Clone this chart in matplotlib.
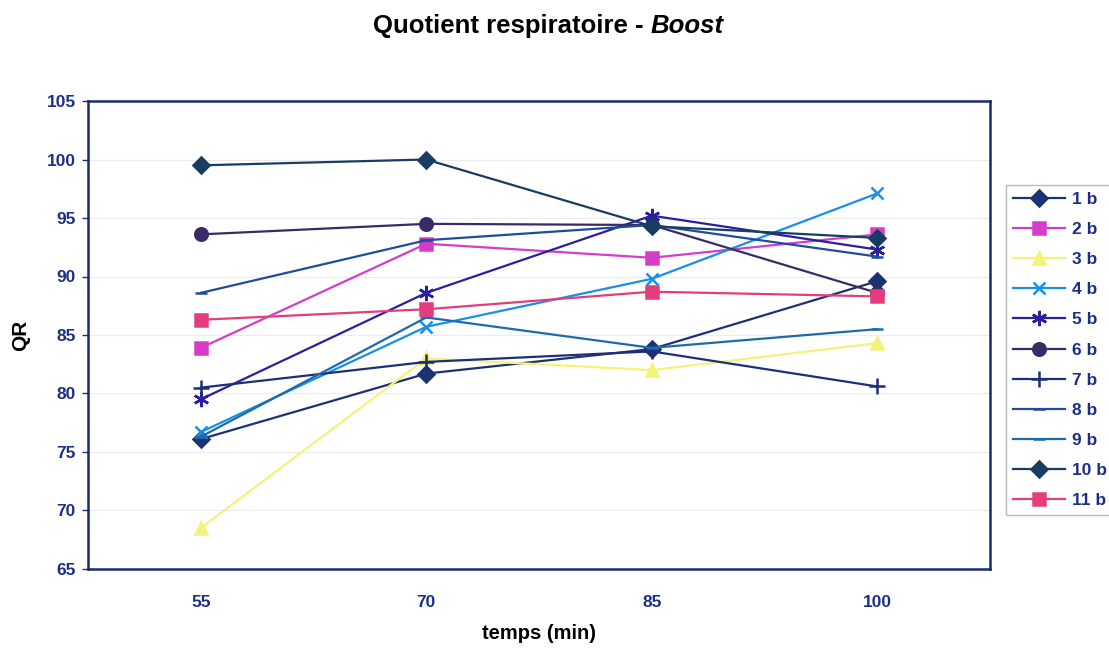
import matplotlib.pyplot as plt
from matplotlib.ticker import MultipleLocator

plt.rcParams['font.family'] = ['Liberation Sans', 'DejaVu Sans']

# temps (min) et quotient respiratoire par sujet
temps = ['55', '70', '85', '100']
qr_1b = [76.1, 81.7, 83.8, 89.6]
qr_2b = [83.9, 92.8, 91.6, 93.6]
qr_3b = [68.5, 83.0, 82.0, 84.3]
qr_4b = [76.7, 85.7, 89.8, 97.1]
qr_5b = [79.5, 88.6, 95.2, 92.3]
qr_6b = [93.6, 94.5, 94.4, 88.6]
qr_7b = [80.5, 82.7, 83.6, 80.6]
qr_8b = [88.6, 93.1, 94.4, 91.7]
qr_9b = [76.3, 86.5, 83.9, 85.5]
qr_10b = [99.5, 100.0, 94.3, 93.3]
qr_11b = [86.3, 87.2, 88.7, 88.3]

series = [
    ('1 b', qr_1b, '#1c3373', 'D', 8),
    ('2 b', qr_2b, '#d63cc8', 's', 8),
    ('3 b', qr_3b, '#f4f27a', '^', 8),
    ('4 b', qr_4b, '#1a8fe8', 'x', 9),
    ('5 b', qr_5b, '#2a1fa0', (6, 2, 0), 11),
    ('6 b', qr_6b, '#3a2a66', 'o', 9),
    ('7 b', qr_7b, '#1c2f7a', '+', 12),
    ('8 b', qr_8b, '#1f4d9c', '_', 8),
    ('9 b', qr_9b, '#1e6aad', '_', 8),
    ('10 b', qr_10b, '#173d62', 'D', 8),
    ('11 b', qr_11b, '#e53c80', 's', 8),
]

bleu = '#1c2f86'

fig = plt.figure(figsize=(11.09, 6.48), dpi=100)
ax = fig.add_axes([88 / 1109, 1 - 569 / 648, 902 / 1109, 468 / 648])

for nom, vals, couleur, marq, taille in series:
    ax.plot(temps, vals, color=couleur, lw=1.6, marker=marq, markersize=taille,
            markerfacecolor=couleur, markeredgecolor=couleur, markeredgewidth=1.8,
            label=nom)

ax.set_xlim(-0.5, 3.5)
ax.set_ylim(65, 105)
ax.yaxis.set_major_locator(MultipleLocator(5))
ax.grid(axis='y', color='#ececec', lw=0.8)
ax.set_axisbelow(True)

for s in ax.spines.values():
    s.set_color('#1a2a70')
    s.set_linewidth(1.8)

ax.tick_params(axis='both', colors=bleu, labelsize=12.5, length=4, width=1)
ax.tick_params(axis='y', pad=5)
ax.tick_params(axis='x', length=0, pad=19)
for lab in ax.get_xticklabels() + ax.get_yticklabels():
    lab.set_fontweight('bold')
    lab.set_color(bleu)

ax.set_xlabel('temps (min)', fontsize=14.5, fontweight='bold', labelpad=10)
ax.set_ylabel('QR', fontsize=15, fontweight='bold', labelpad=12)

# titre : "Boost" en italique
fig.text(651 / 1109, 1 - 26 / 648, 'Quotient respiratoire - ', ha='right', va='center',
         fontsize=18.5, fontweight='bold')
fig.text(651 / 1109, 1 - 26 / 648, 'Boost', ha='left', va='center',
         fontsize=18.5, fontweight='bold', style='italic')

leg = fig.legend(loc='center left', bbox_to_anchor=(1006 / 1109, 1 - 350 / 648),
                 fontsize=12.5, labelspacing=0.86, handlelength=3.0, handletextpad=0.4,
                 borderpad=0.4, borderaxespad=0, fancybox=False, framealpha=1)
leg.get_frame().set_edgecolor('#bbbbbb')
for t in leg.get_texts():
    t.set_color(bleu)
    t.set_fontweight('bold')

fig.savefig('out.png')
